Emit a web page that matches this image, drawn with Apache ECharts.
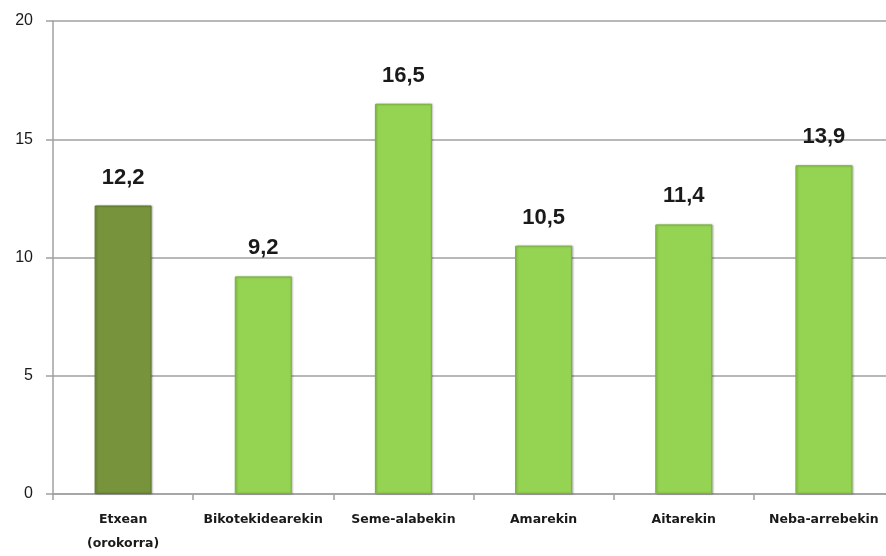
<!DOCTYPE html>
<html>
<head>
<meta charset="utf-8">
<script src="https://cdn.jsdelivr.net/npm/echarts@6/dist/echarts.min.js"></script>
<style>
html,body{margin:0;padding:0;background:#fff;overflow:hidden;}
#chart{width:894px;height:556px;}
</style>
</head>
<body>
<div id="chart"></div>
<script>
const categories = ['Etxean\n(orokorra)', 'Bikotekidearekin', 'Seme-alabekin', 'Amarekin', 'Aitarekin', 'Neba-arrebekin'];
const values = [12.2, 9.2, 16.5, 10.5, 11.4, 13.9];
const yTicks = [0, 5, 10, 15, 20];

const darkGreen = '#77933C';
const lightGreen = '#95D352';

const chart = echarts.init(document.getElementById('chart'));
chart.setOption({
  animation: false,
  grid: { left: 53, right: 0, top: 21, bottom: 59 },
  xAxis: {
    type: 'category',
    data: categories,
    axisLine: { lineStyle: { color: '#a0a0a0', width: 1.5 } },
    axisTick: { show: true, length: 6, lineStyle: { color: '#a0a0a0', width: 1.5 } },
    axisLabel: {
      interval: 0,
      margin: 14,
      fontFamily: 'DejaVu Sans',
      fontWeight: 'bold',
      fontSize: 12.5,
      color: '#1a1a1a',
      lineHeight: 24
    }
  },
  yAxis: {
    type: 'value',
    min: yTicks[0],
    max: yTicks[yTicks.length - 1],
    interval: 5,
    axisLine: { show: true, lineStyle: { color: '#a0a0a0', width: 1.5 } },
    axisTick: { show: true, length: 7, lineStyle: { color: '#a0a0a0', width: 1.5 } },
    splitLine: { lineStyle: { color: '#a0a0a0', width: 1.5 } },
    axisLabel: {
      margin: 20,
      fontFamily: 'Arial, Liberation Sans',
      fontSize: 16,
      color: '#1a1a1a'
    }
  },
  series: [{
    type: 'bar',
    barWidth: 57,
    data: values.map((v, i) => ({
      value: v,
      itemStyle: {
        color: i === 0 ? darkGreen : lightGreen,
        borderColor: i === 0 ? '#5f7a2c' : '#78b33c',
        borderWidth: 1,
        shadowColor: 'rgba(0,0,0,0.25)',
        shadowBlur: 2,
        shadowOffsetX: 1
      }
    })),
    label: {
      show: true,
      position: 'top',
      distance: 17,
      fontFamily: 'Arial, Liberation Sans',
      fontWeight: 'bold',
      fontSize: 22,
      color: '#1a1a1a',
      formatter: p => String(p.value).replace('.', ',')
    }
  }]
});
</script>
</body>
</html>
